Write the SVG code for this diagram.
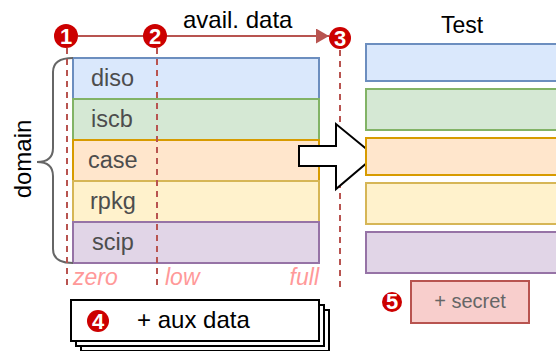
<svg xmlns="http://www.w3.org/2000/svg" width="556" height="351" viewBox="0 0 556 351">
  <style>
    text { font-family: "Liberation Sans", Arial, sans-serif; }
    .lbl { font-size: 23.5px; fill: #4d4d4d; }
    .axis { font-size: 23px; fill: #ff9999; font-style: italic; }
    .dash { stroke: #b85450; stroke-width: 2; stroke-dasharray: 6 5; fill: none; }
    .badge { fill: #cc0000; }
    .num { font-size: 22px; font-weight: bold; fill: #ffffff; text-anchor: middle; }
    .blue { fill: #dae8fc; stroke: #6c8ebf; stroke-width: 2; }
    .green { fill: #d5e8d4; stroke: #82b366; stroke-width: 2; }
    .orange { fill: #ffe6cc; stroke: #d79b00; stroke-width: 2; }
    .yellow { fill: #fff2cc; stroke: #d6b656; stroke-width: 2; }
    .purple { fill: #e1d5e7; stroke: #9673a6; stroke-width: 2; }
  </style>
  <defs>
    <marker id="arrowRed" viewBox="0 0 13 15" refX="13" refY="7.5" markerWidth="6.5" markerHeight="7.5" orient="auto" markerUnits="strokeWidth">
      <path d="M0,0 L13,7.5 L0,15 Z" fill="#b85450"/>
    </marker>
  </defs>

  <!-- training domains -->
  <g id="diso"><rect class="blue" x="73" y="58" width="246" height="41"/><text class="lbl" x="91" y="86">diso</text></g>
  <g id="iscb"><rect class="green" x="73" y="99" width="246" height="41"/><text class="lbl" x="91" y="127">iscb</text></g>
  <g id="case"><rect class="orange" x="73" y="140" width="246" height="41"/><text class="lbl" x="88" y="168">case</text></g>
  <g id="rpkg"><rect class="yellow" x="73" y="181" width="246" height="41"/><text class="lbl" x="90" y="209">rpkg</text></g>
  <g id="scip"><rect class="purple" x="73" y="222" width="246" height="41"/><text class="lbl" x="92" y="250">scip</text></g>

  <!-- domain brace -->
  <g id="domain">
    <path d="M73,58 Q53,58 53,72 L53,148 Q53,162 37,162 Q53,162 53,176 L53,249 Q53,263 73,263" fill="none" stroke="#666666" stroke-width="2"/>
    <text x="0" y="0" font-size="24" fill="#000" text-anchor="middle" transform="translate(31,159) rotate(-90)">domain</text>
  </g>

  <!-- data availability axis -->
  <g id="connectors">
    <line x1="78" y1="36" x2="329" y2="36" stroke="#b85450" stroke-width="2" marker-end="url(#arrowRed)"/>
    <line class="dash" x1="67" y1="48" x2="67" y2="287"/>
    <line class="dash" x1="157" y1="48" x2="157" y2="287"/>
    <line class="dash" x1="340" y1="50" x2="340" y2="287"/>
  </g>
  <text x="183" y="28" font-size="24" fill="#000">avail. data</text>
  <text class="axis" x="73" y="285">zero</text>
  <text class="axis" x="165" y="285">low</text>
  <text class="axis" x="319" y="285" text-anchor="end">full</text>

  <g id="badge1"><circle class="badge" cx="66" cy="36" r="12"/><text class="num" x="66" y="44">1</text></g>
  <g id="badge2"><circle class="badge" cx="155" cy="36" r="12"/><text class="num" x="155" y="44">2</text></g>
  <g id="badge3"><circle class="badge" cx="340" cy="38" r="11"/><text class="num" x="340" y="45.5" font-size="20">3</text></g>

  <!-- transfer arrow -->
  <g id="transfer">
    <polygon points="299,146 336,146 336,124 375,156 336,189 336,166 299,166" fill="#ffffff" stroke="#000000" stroke-width="2"/>
  </g>

  <!-- test domains -->
  <g id="test">
    <text x="462" y="33" font-size="23" text-anchor="middle" fill="#000">Test</text>
    <rect class="blue" x="366" y="44" width="200" height="37"/>
    <rect class="green" x="366" y="89" width="200" height="41"/>
    <rect class="orange" x="366" y="138" width="200" height="37"/>
    <rect class="yellow" x="366" y="183" width="200" height="41"/>
    <rect class="purple" x="366" y="232" width="200" height="41"/>
  </g>

  <!-- auxiliary data stack -->
  <g id="aux">
    <rect x="81" y="310" width="248" height="41" fill="#ffffff" stroke="#000" stroke-width="2"/>
    <rect x="76" y="305" width="248" height="41" fill="#ffffff" stroke="#000" stroke-width="2"/>
    <rect x="71" y="300" width="248" height="41" fill="#ffffff" stroke="#000" stroke-width="2"/>
    <circle class="badge" cx="98" cy="321" r="11"/><text class="num" x="98" y="328.5" font-size="21">4</text>
    <text x="137" y="328" font-size="24" fill="#000">+ aux data</text>
  </g>

  <!-- secret data -->
  <g id="secret">
    <circle class="badge" cx="392" cy="302" r="10"/><text class="num" x="392" y="309" font-size="19">5</text>
    <rect x="411" y="281" width="118" height="42" fill="#f8cecc" stroke="#b85450" stroke-width="2"/>
    <text x="470" y="308" font-size="20" fill="#666666" text-anchor="middle">+ secret</text>
  </g>
</svg>
